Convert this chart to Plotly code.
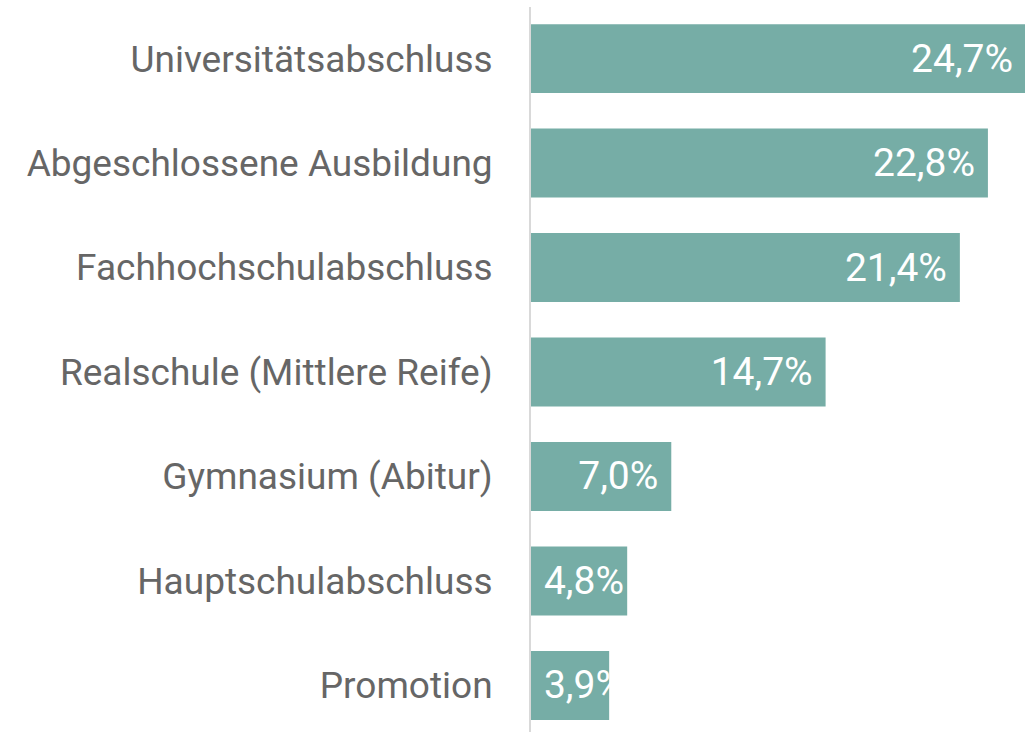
import plotly.graph_objects as go

categories = [
    "Universitätsabschluss",
    "Abgeschlossene Ausbildung",
    "Fachhochschulabschluss",
    "Realschule (Mittlere Reife)",
    "Gymnasium (Abitur)",
    "Hauptschulabschluss",
    "Promotion",
]
values = [24.7, 22.8, 21.4, 14.7, 7.0, 4.8, 3.9]

BAR_COLOR = "#76ADA6"
FONT = "Roboto"


def fmt(v):
    return f"{v:.1f}".replace(".", ",") + "%"


big_c = [c for c, v in zip(categories, values) if v >= 6]
big_v = [v for v in values if v >= 6]
small_c = [c for c, v in zip(categories, values) if v < 6]
small_v = [v for v in values if v < 6]

fig = go.Figure()
fig.add_trace(go.Bar(
    y=big_c, x=big_v, orientation="h",
    marker=dict(color=BAR_COLOR, line=dict(width=0)),
    text=[fmt(v) + "\u2005" for v in big_v],
    textposition="inside", insidetextanchor="end",
    constraintext="none", textangle=0,
    textfont=dict(family=FONT, size=39, color="white"),
    hoverinfo="skip",
))
fig.add_trace(go.Bar(
    y=small_c, x=small_v, orientation="h",
    marker=dict(color=BAR_COLOR, line=dict(width=0)),
    text=["\u2005" + fmt(v) for v in small_v],
    textposition="inside", insidetextanchor="start",
    constraintext="none", textangle=0,
    textfont=dict(family=FONT, size=39, color="white"),
    hoverinfo="skip",
))

fig.update_layout(
    width=1025, height=732,
    margin=dict(l=531, r=0, t=7, b=0),
    paper_bgcolor="white", plot_bgcolor="white",
    showlegend=False,
    barmode="overlay",
    bargap=0.34,
    font=dict(family=FONT),
)
fig.update_xaxes(visible=False, range=[0, 24.65], showgrid=False, zeroline=False)
fig.update_yaxes(
    categoryorder="array", categoryarray=categories,
    range=[6.446, -0.494],
    showline=True, linecolor="#D9D9D9", linewidth=2,
    showgrid=False, zeroline=False, ticks="",
    ticklabelstandoff=29,
    tickfont=dict(family=FONT, size=37, color="#666666"),
)

fig.write_html(
    "out.html",
    config={"displayModeBar": False, "staticPlot": True},
    post_script="document.body.style.margin='0';document.body.style.overflow='hidden';",
)
